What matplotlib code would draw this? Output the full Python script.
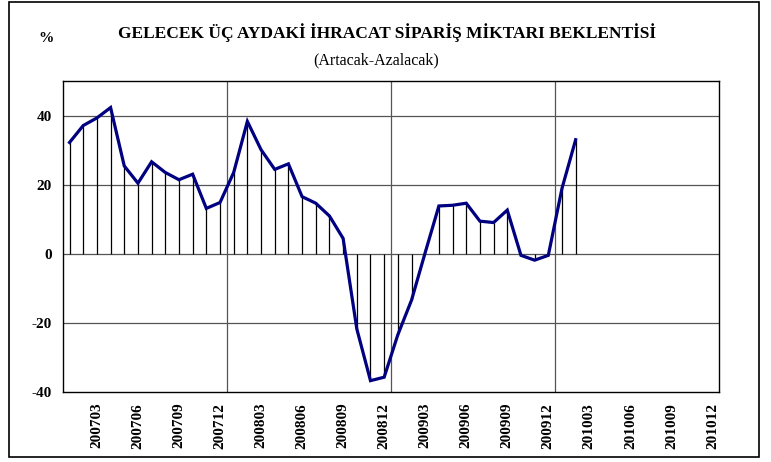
import matplotlib
matplotlib.use("Agg")
import matplotlib.pyplot as plt
from matplotlib.patches import Rectangle

# ---- data ----
months = [f"{y}{m:02d}" for y in (2007, 2008, 2009, 2010) for m in range(1, 13)]
values = [
    32.2, 37.1, 39.3, 42.3, 25.4, 20.4, 26.6, 23.5, 21.4, 23.0, 13.1, 14.8,   # 2007
    23.5, 38.3, 30.1, 24.4, 26.0, 16.5, 14.6, 10.9, 4.4, -21.8, -36.8, -35.8,  # 2008
    -23.5, -13.5, 0.3, 13.8, 14.0, 14.6, 9.4, 9.0, 12.6, -0.5, -1.9, -0.5,     # 2009
    18.9, 33.0,                                                               # 2010
]
tick_labels = [m for m in months if int(m[-2:]) % 3 == 0]
y_ticks = [-40, -20, 0, 20, 40]
title = "GELECEK ÜÇ AYDAKİ İHRACAT SİPARİŞ MİKTARI BEKLENTİSİ"
subtitle = "(Artacak-Azalacak)"

plt.rcParams['font.family'] = ['Liberation Serif', 'DejaVu Serif']

W, H = 771, 462
fig = plt.figure(figsize=(W / 100, H / 100), dpi=100)
ax = fig.add_axes([62.7 / W, 1 - 391.7 / H, (719.3 - 62.7) / W, (391.7 - 81) / H])

x = list(range(len(values)))
ax.vlines(x, 0, values, color='black', lw=0.9, zorder=2)
ax.plot(x, values, color='#000080', lw=2.3, zorder=3, solid_joinstyle='miter')

ax.set_xlim(-0.5, len(months) - 0.5)
ax.set_ylim(-40, 50)

tick_pos = [months.index(t) for t in tick_labels]
ax.set_xticks(tick_pos)
ax.set_xticklabels(tick_labels, rotation=90, fontweight='bold', fontsize=11)
ax.set_yticks(y_ticks)
ax.set_yticklabels([str(v) for v in y_ticks], fontweight='bold', fontsize=11)
ax.tick_params(axis='both', length=0)
ax.tick_params(axis='x', pad=8)
ax.tick_params(axis='y', pad=8)

for yv in y_ticks[1:]:
    ax.axhline(yv, color='#555555', lw=0.9, zorder=1)
for xv in (11.5, 23.5, 35.5):
    ax.axvline(xv, color='#555555', lw=0.9, zorder=1)
for s in ax.spines.values():
    s.set_color('black')
    s.set_linewidth(1.0)

fig.text(387.5 / W, 1 - 33 / H, title, ha='center', va='center',
         fontweight='bold', fontsize=12.5)
fig.text(46 / W, 1 - 38 / H, "%", ha='center', va='center',
         fontweight='bold', fontsize=11)
fig.text(376 / W, 1 - 60 / H, subtitle, ha='center', va='center', fontsize=11.5)

fig.patches.append(Rectangle((9 / W, 1 - 457 / H), 750 / W, 455 / H,
                             transform=fig.transFigure, fill=False,
                             edgecolor='black', lw=1.2))

fig.savefig("out.png", dpi=100)
